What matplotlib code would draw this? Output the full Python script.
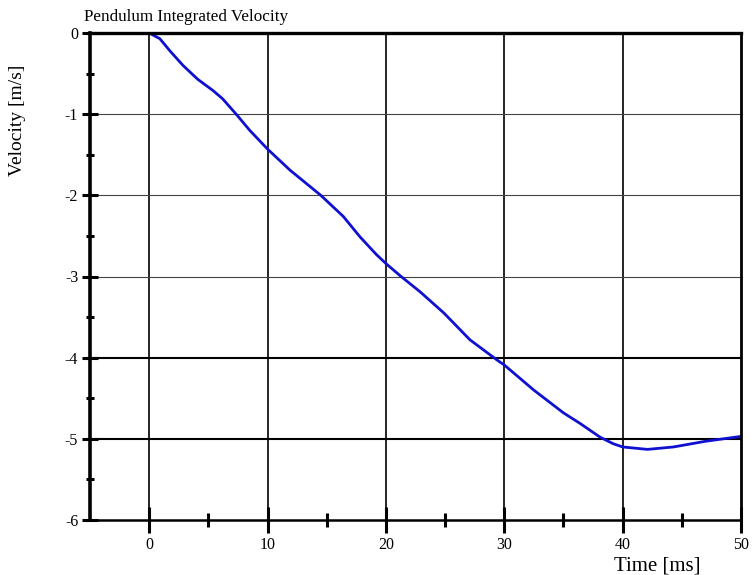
import matplotlib
matplotlib.use("Agg")
import matplotlib.pyplot as plt
import numpy as np

# Data
time_ms = [0, 0.9, 1.75, 2.86, 4.1, 5.4, 6.2, 7.35, 8.5, 10.0, 11.9, 14.5, 16.4, 17.8, 19.2,
           20.0, 21.2, 22.9, 24.9, 27.1, 29.4, 30.0, 32.5, 35.0, 36.4, 38.1, 39.2, 40.0,
           42.1, 44.3, 47.0, 50.0]
velocity = [0.0, -0.07, -0.22, -0.40, -0.57, -0.71, -0.81, -1.00, -1.20, -1.43, -1.69, -2.00,
            -2.26, -2.51, -2.73, -2.84, -2.99, -3.19, -3.45, -3.78, -4.03, -4.09, -4.40,
            -4.68, -4.81, -4.98, -5.06, -5.10, -5.13, -5.10, -5.03, -4.97]
x_major = [0, 10, 20, 30, 40, 50]
x_minor = [5, 15, 25, 35, 45]
y_major = [0, -1, -2, -3, -4, -5, -6]
y_minor = [-0.5, -1.5, -2.5, -3.5, -4.5, -5.5]

plt.rcParams['font.family'] = ['Liberation Serif', 'DejaVu Serif']

fig = plt.figure(figsize=(7.55, 5.75), dpi=100)
ax = fig.add_axes([90/755, 55/575, 651/755, 487/575])
ax.set_xlim(-5, 50)
ax.set_ylim(-6, 0)

# grid
for xv in x_major[:-1]:
    ax.axvline(xv, color='black', lw=1.2, zorder=1)
for yv in y_major[1:-1]:
    if yv in (-4, -5):
        ax.axhline(yv, color='black', lw=1.5, zorder=1)
    else:
        ax.axhline(yv, color='#444444', lw=0.8, zorder=1)

ax.plot(time_ms, velocity, color='#1010d0', lw=2.0, zorder=3,
        solid_joinstyle='round', solid_capstyle='round')

ax.set_xticks(x_major)
ax.set_xticks(x_minor, minor=True)
ax.set_yticks(y_major)
ax.set_yticks(y_minor, minor=True)
ax.set_xticklabels([str(v) for v in x_major])
ax.set_yticklabels([str(v) for v in y_major])

ax.tick_params(axis='x', which='major', direction='inout', length=19, width=2.2, pad=3, labelsize=11.5)
ax.tick_params(axis='x', which='minor', direction='inout', length=10, width=2.2)
ax.tick_params(axis='y', which='major', direction='inout', length=11, width=2.2, pad=3, labelsize=11.5)
ax.tick_params(axis='y', which='minor', direction='inout', length=6, width=2.2)

ax.spines['top'].set_linewidth(2.4)
ax.spines['left'].set_linewidth(2.6)
ax.spines['bottom'].set_linewidth(1.8)
ax.spines['right'].set_linewidth(2.0)
for s in ax.spines.values():
    s.set_zorder(4)

fig.text(84/755, 1 - 17/575, 'Pendulum Integrated Velocity', ha='left', va='center', fontsize=12.3)
ax.text(-0.111, 0.82, 'Velocity [m/s]', rotation=90, transform=ax.transAxes,
        ha='center', va='center', fontsize=14)
ax.text(0.872, -0.095, 'Time [ms]', transform=ax.transAxes, ha='center', va='center', fontsize=15)

fig.savefig('out.png', dpi=100)
